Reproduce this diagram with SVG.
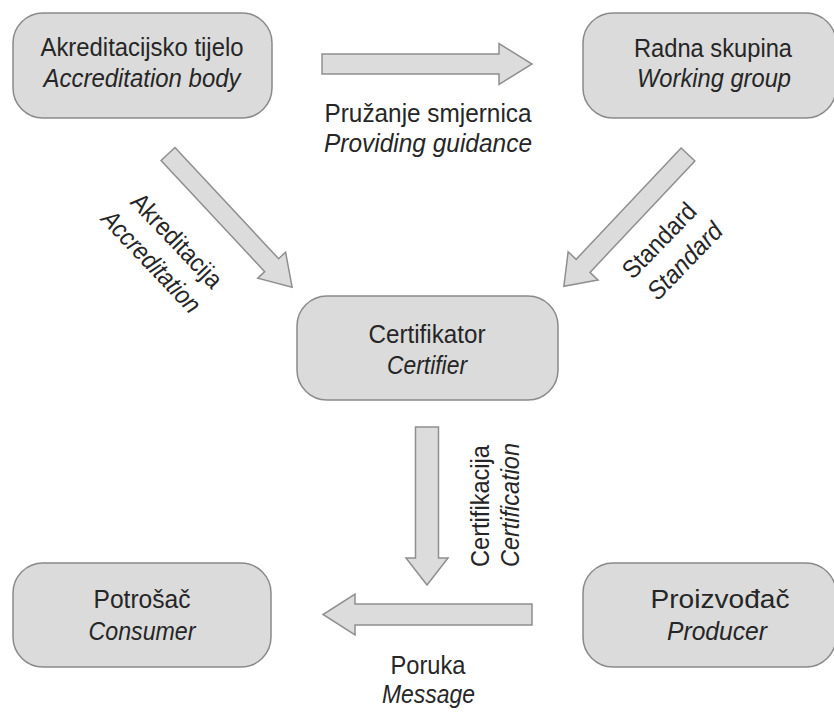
<svg xmlns="http://www.w3.org/2000/svg" width="834" height="713" viewBox="0 0 834 713">
<style>
.box{fill:#dbdbdb;stroke:#8a8a8a;stroke-width:1.5}
.arr{fill:#dcdcdc;stroke:#8f8f8f;stroke-width:1.5;stroke-linejoin:miter}
text{font-family:"Liberation Sans",Arial,sans-serif;font-size:25.5px;fill:#262626;text-anchor:middle}
.it{font-style:italic}
</style>
<rect width="834" height="713" fill="#ffffff"/>
<g id="connectors">
<polygon class="arr" transform="translate(322,64)" points="0,-10 177,-10 177,-20.5 210,0 177,20.5 177,10 0,10"/>
<polygon class="arr" transform="translate(168,154) rotate(47)" points="0,-9.5 152,-9.5 152,-19 182,0 152,19 152,9.5 0,9.5"/>
<polygon class="arr" transform="translate(688,154.5) rotate(133.3)" points="0,-9.5 153,-9.5 153,-20.5 181,0 153,20.5 153,9.5 0,9.5"/>
<polygon class="arr" transform="translate(427,427) rotate(90)" points="0,-11.5 131,-11.5 131,-21 158,0 131,21 131,11.5 0,11.5"/>
<polygon class="arr" transform="translate(532,614.5) rotate(180)" points="0,-10.5 177,-10.5 177,-20.5 209,0 177,20.5 177,10.5 0,10.5"/>
<text x="428" y="122" textLength="207" lengthAdjust="spacingAndGlyphs">Pružanje smjernica</text>
<text class="it" x="428" y="152" textLength="208" lengthAdjust="spacingAndGlyphs">Providing guidance</text>
<text transform="translate(170.5,246.5) rotate(46.5)" textLength="120" lengthAdjust="spacingAndGlyphs">Akreditacija</text>
<text class="it" transform="translate(145,267.5) rotate(46.5)" textLength="131" lengthAdjust="spacingAndGlyphs">Accreditation</text>
<text transform="translate(665.5,246.5) rotate(-46)" textLength="94" lengthAdjust="spacingAndGlyphs">Standard</text>
<text class="it" transform="translate(691,267) rotate(-46)" textLength="96" lengthAdjust="spacingAndGlyphs">Standard</text>
<text transform="translate(489,506) rotate(-90)" textLength="122" lengthAdjust="spacingAndGlyphs">Certifikacija</text>
<text class="it" transform="translate(519,505) rotate(-90)" textLength="124" lengthAdjust="spacingAndGlyphs">Certification</text>
<text x="428" y="674" textLength="75" lengthAdjust="spacingAndGlyphs">Poruka</text>
<text class="it" x="428.5" y="703" textLength="93" lengthAdjust="spacingAndGlyphs">Message</text>
</g>
<g id="accreditation-body">
<rect class="box" x="13" y="13" width="259" height="105" rx="30"/>
<text x="142" y="56" textLength="203" lengthAdjust="spacingAndGlyphs">Akreditacijsko tijelo</text>
<text class="it" x="142" y="87" textLength="197" lengthAdjust="spacingAndGlyphs">Accreditation body</text>
</g>
<g id="working-group">
<rect class="box" x="583" y="13" width="253" height="105" rx="30"/>
<text x="713" y="57" textLength="158" lengthAdjust="spacingAndGlyphs">Radna skupina</text>
<text class="it" x="714" y="87" textLength="154" lengthAdjust="spacingAndGlyphs">Working group</text>
</g>
<g id="certifier">
<rect class="box" x="297" y="296" width="261" height="104" rx="30"/>
<text x="427" y="343" textLength="117" lengthAdjust="spacingAndGlyphs">Certifikator</text>
<text class="it" x="427" y="374" textLength="80" lengthAdjust="spacingAndGlyphs">Certifier</text>
</g>
<g id="consumer">
<rect class="box" x="13" y="563" width="258" height="104" rx="30"/>
<text x="142" y="608" textLength="97" lengthAdjust="spacingAndGlyphs">Potrošač</text>
<text class="it" x="142" y="640" textLength="107" lengthAdjust="spacingAndGlyphs">Consumer</text>
</g>
<g id="producer">
<rect class="box" x="583" y="563" width="253" height="104" rx="30"/>
<text x="720" y="608" textLength="139" lengthAdjust="spacingAndGlyphs">Proizvođač</text>
<text class="it" x="717" y="640" textLength="100" lengthAdjust="spacingAndGlyphs">Producer</text>
</g>
</svg>
